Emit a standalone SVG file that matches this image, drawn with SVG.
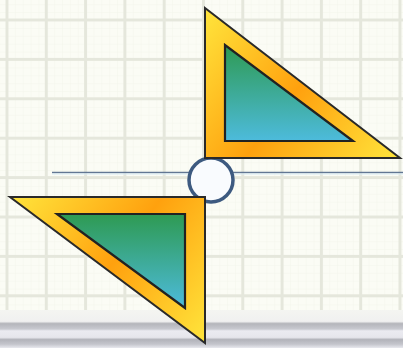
<svg xmlns="http://www.w3.org/2000/svg" width="403" height="348" viewBox="0 0 403 348">
<defs>
<pattern id="minor" x="7" y="20" width="7.86" height="7.9" patternUnits="userSpaceOnUse">
<path d="M0 0V7.9M0 0H7.86" fill="none" stroke="#f3f5ec" stroke-width="1"/>
</pattern>
<pattern id="major" x="5.5" y="18.5" width="39.3" height="39.4" patternUnits="userSpaceOnUse">
<path d="M1.5 0V39.4M0 1.5H39.3" fill="none" stroke="#e5e7dc" stroke-width="3"/>
</pattern>
<linearGradient id="gOut1" gradientUnits="userSpaceOnUse" x1="205" y1="8" x2="400" y2="158">
<stop offset="0" stop-color="#ffe53c"/>
<stop offset="0.5" stop-color="#ffa10e"/>
<stop offset="1" stop-color="#ffe53c"/>
</linearGradient>
<linearGradient id="gOut2" gradientUnits="userSpaceOnUse" x1="10" y1="197" x2="205" y2="343">
<stop offset="0" stop-color="#ffe53c"/>
<stop offset="0.5" stop-color="#ffa10e"/>
<stop offset="1" stop-color="#ffe53c"/>
</linearGradient>
<linearGradient id="gIn" x1="0" y1="0" x2="0" y2="1">
<stop offset="0" stop-color="#2e9a52"/>
<stop offset="1" stop-color="#4dbbdc"/>
</linearGradient>
<linearGradient id="gBar" x1="0" y1="0" x2="0" y2="1">
<stop offset="0" stop-color="#f4f5f1"/>
<stop offset="0.3" stop-color="#f0f0f0"/>
<stop offset="0.36" stop-color="#b4b5bb"/>
<stop offset="0.5" stop-color="#c8c9d0"/>
<stop offset="0.55" stop-color="#ebebf1"/>
<stop offset="0.72" stop-color="#e6e6ec"/>
<stop offset="0.78" stop-color="#b2b3ba"/>
<stop offset="0.9" stop-color="#c4c5cc"/>
<stop offset="1" stop-color="#e8e8ee"/>
</linearGradient>
<style>
.outer{stroke:#2a2a2a;stroke-width:2;stroke-linejoin:miter}
.inner{fill:url(#gIn);stroke:#222;stroke-width:2.2}
</style>
</defs>
<rect width="403" height="348" fill="#fbfcf5"/>
<rect width="403" height="348" fill="url(#minor)"/>
<rect width="403" height="348" fill="url(#major)"/>
<rect x="0" y="310" width="403" height="38" fill="url(#gBar)"/>
<g id="connectors">
<line x1="52" y1="172.5" x2="403" y2="172.5" stroke="#627793" stroke-width="1.6"/>
<line x1="52" y1="174" x2="403" y2="174" stroke="#d8ecf6" stroke-width="1.2"/>
</g>
<g id="hub">
<circle cx="211" cy="180" r="22" fill="#f9fbfe" stroke="#3d5a80" stroke-width="3.5"/>
</g>
<g id="triangle-top">
<polygon class="outer" points="205,8 205,158 400,158" fill="url(#gOut1)"/>
<polygon class="inner" points="225,45 225,141 353,141"/>
</g>
<g id="triangle-bottom">
<polygon class="outer" points="10,197 205,197 205,343" fill="url(#gOut2)"/>
<polygon class="inner" points="57,214 185,214 185,308"/>
</g>
</svg>
